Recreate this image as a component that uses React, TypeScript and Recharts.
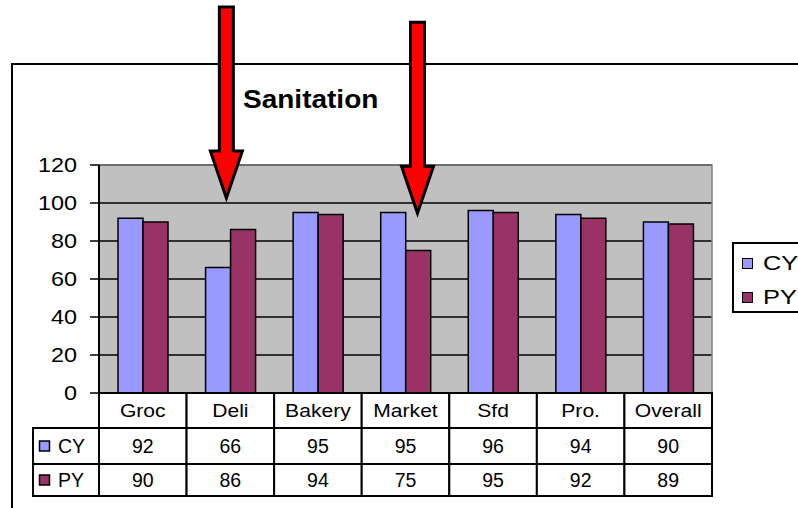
import {
  Bar,
  BarChart,
  CartesianGrid,
  Legend,
  ReferenceArea,
  ReferenceDot,
  XAxis,
  YAxis,
} from "recharts";

const categories = ["Groc", "Deli", "Bakery", "Market", "Sfd", "Pro.", "Overall"];
const cyValues = [92, 66, 95, 95, 96, 94, 90];
const pyValues = [90, 86, 94, 75, 95, 92, 89];
const seriesNames = ["CY", "PY"];
const seriesColors = ["#9999FF", "#993366"];
const yTicks = [0, 20, 40, 60, 80, 100, 120];
// the two red call-out arrows: which category, and the value their tip points at
const arrowCategories = ["Deli", "Market"];
const arrowTipValues = [100, 92];

const FONT = '"Liberation Sans", Arial, sans-serif';
const CHART_W = 798;
const CHART_H = 508;
const PLOT_LEFT = 99;
const PLOT_RIGHT = 712;
const BAND = (PLOT_RIGHT - PLOT_LEFT) / categories.length;
const ROW_H = [35, 36, 32];
const TABLE_LEFT = 33;
const ARROW_SHIFT = [-4, 12];

const data = categories.map((name, i) => ({ name, CY: cyValues[i], PY: pyValues[i] }));
const seriesValues = [cyValues, pyValues];

// the source picture is a little stretched sideways, so some labels are too
function WideText({ x, y, sx, anchor, size, children }: any) {
  return (
    <text
      transform={`translate(${x},${y}) scale(${sx},1)`}
      dy="0.36em"
      textAnchor={anchor}
      fontFamily={FONT}
      fontSize={size}
      fill="#000"
    >
      {children}
    </text>
  );
}

function YTick({ x, y, payload }: any) {
  return (
    <WideText x={x} y={y} sx={1.2} anchor="end" size={19.5}>
      {payload.value}
    </WideText>
  );
}

/** x-axis tick that draws a whole column of the data table under the plot */
function TableTick(props: any) {
  const { x, y, payload } = props;
  const i = payload?.index ?? props.index;
  const left = x - BAND / 2;
  const r1 = y;
  const r2 = r1 + ROW_H[0];
  const r3 = r2 + ROW_H[1];
  const r4 = r3 + ROW_H[2];
  const rowMid = [(r2 + r3) / 2, (r3 + r4) / 2];
  return (
    <g fontFamily={FONT} fill="#000">
      <rect x={left} y={r1} width={BAND} height={r4 - r1} fill="#fff" stroke="#000" strokeWidth={2} />
      <line x1={left} x2={left + BAND} y1={r2} y2={r2} stroke="#000" strokeWidth={2} />
      <line x1={left} x2={left + BAND} y1={r3} y2={r3} stroke="#000" strokeWidth={2} />
      <WideText x={x} y={(r1 + r2) / 2} sx={1.14} anchor="middle" size={18.5}>
        {payload.value}
      </WideText>
      {seriesValues.map((vals, s) => (
        <text key={s} x={x} y={rowMid[s]} dy="0.36em" textAnchor="middle" fontSize={19.5}>
          {vals[i]}
        </text>
      ))}
      {i === 0 && (
        <g>
          <rect
            x={TABLE_LEFT}
            y={r2}
            width={left - TABLE_LEFT}
            height={r4 - r2}
            fill="#fff"
            stroke="#000"
            strokeWidth={2}
          />
          <line x1={TABLE_LEFT} x2={left} y1={r3} y2={r3} stroke="#000" strokeWidth={2} />
          {seriesNames.map((name, s) => (
            <g key={name}>
              <rect
                x={TABLE_LEFT + 6.5}
                y={rowMid[s] - 5}
                width={10}
                height={10}
                fill={seriesColors[s]}
                stroke="#000"
                strokeWidth={1.5}
              />
              <text x={TABLE_LEFT + 25} y={rowMid[s]} dy="0.36em" fontSize={19.5}>
                {name}
              </text>
            </g>
          ))}
        </g>
      )}
    </g>
  );
}

function arrowShape(shift: number) {
  return (p: any) => {
    const tx = p.cx + shift;
    const ty = p.cy - 5;
    const head = 47;
    const len = 191;
    const pts = [
      [tx, ty],
      [tx - 16, ty - head],
      [tx - 7, ty - head],
      [tx - 7, ty - len],
      [tx + 7, ty - len],
      [tx + 7, ty - head],
      [tx + 16, ty - head],
    ]
      .map((q) => q.join(","))
      .join(" ");
    return <polygon points={pts} fill="#FF0000" stroke="#000" strokeWidth={3} />;
  };
}

// legend box runs off the right edge of the picture, so it has no right border
function LegendBox({ payload }: any) {
  return (
    <div
      style={{
        borderTop: "2px solid #000",
        borderLeft: "2px solid #000",
        borderBottom: "2px solid #000",
        background: "#fff",
        width: 66,
        height: 71,
        boxSizing: "border-box",
        padding: "2px 0 0 8px",
        fontFamily: FONT,
        fontSize: 19.5,
        color: "#000",
        overflow: "hidden",
        whiteSpace: "nowrap",
      }}
    >
      {(payload ?? []).map((entry: any) => (
        <div key={entry.value} style={{ display: "flex", alignItems: "center", height: 34 }}>
          <span
            style={{
              display: "inline-block",
              flex: "none",
              width: 9,
              height: 9,
              background: entry.color,
              border: "1.5px solid #000",
              marginRight: 10,
            }}
          />
          <span style={{ display: "inline-block", transform: "scaleX(1.3)", transformOrigin: "0 50%" }}>
            {entry.value}
          </span>
        </div>
      ))}
    </div>
  );
}

export default function App() {
  return (
    <div
      style={{
        position: "absolute",
        left: 0,
        top: 0,
        width: CHART_W,
        height: CHART_H,
        overflow: "hidden",
        background: "#fff",
      }}
    >
      <div
        style={{
          position: "absolute",
          left: 11,
          top: 63,
          width: 1000,
          height: 1000,
          borderTop: "2px solid #000",
          borderLeft: "2px solid #000",
        }}
      />
      <div
        style={{
          position: "absolute",
          left: 243,
          top: 87,
          fontFamily: FONT,
          fontWeight: "bold",
          fontSize: 25,
          lineHeight: "25px",
          color: "#000",
          whiteSpace: "nowrap",
          transform: "scaleX(1.12)",
          transformOrigin: "0 0",
        }}
      >
        Sanitation
      </div>
      <div style={{ position: "absolute", left: 0, top: 0 }}>
        <BarChart
          width={CHART_W}
          height={CHART_H}
          data={data}
          margin={{ top: 165, right: CHART_W - PLOT_RIGHT, bottom: 12, left: 0 }}
          barSize={25}
          barGap={0}
        >
          <CartesianGrid vertical={false} stroke="#000" strokeWidth={1.5} fill="#C0C0C0" fillOpacity={1} />
          <ReferenceArea y1={0} y2={120} fill="none" stroke="#808080" strokeWidth={1.5} />
          <XAxis
            dataKey="name"
            interval={0}
            height={103}
            tickLine={false}
            tickSize={0}
            tickMargin={0}
            axisLine={{ stroke: "#000", strokeWidth: 2 }}
            tick={<TableTick />}
          />
          <YAxis
            width={PLOT_LEFT}
            domain={[0, 120]}
            ticks={yTicks}
            interval={0}
            tickSize={9}
            tickMargin={13}
            tickLine={{ stroke: "#000", strokeWidth: 1.5 }}
            axisLine={{ stroke: "#000", strokeWidth: 2 }}
            tick={<YTick />}
          />
          <Legend
            layout="vertical"
            align="center"
            verticalAlign="middle"
            wrapperStyle={{ position: "absolute", left: 732, top: 242, width: 66 }}
            content={<LegendBox />}
          />
          {seriesNames.map((name, s) => (
            <Bar
              key={name}
              dataKey={name}
              fill={seriesColors[s]}
              stroke="#000"
              strokeWidth={1.5}
              isAnimationActive={false}
            />
          ))}
          {arrowCategories.map((cat, k) => (
            <ReferenceDot
              key={cat}
              x={cat}
              y={arrowTipValues[k]}
              r={1}
              shape={arrowShape(ARROW_SHIFT[k])}
            />
          ))}
        </BarChart>
      </div>
    </div>
  );
}
